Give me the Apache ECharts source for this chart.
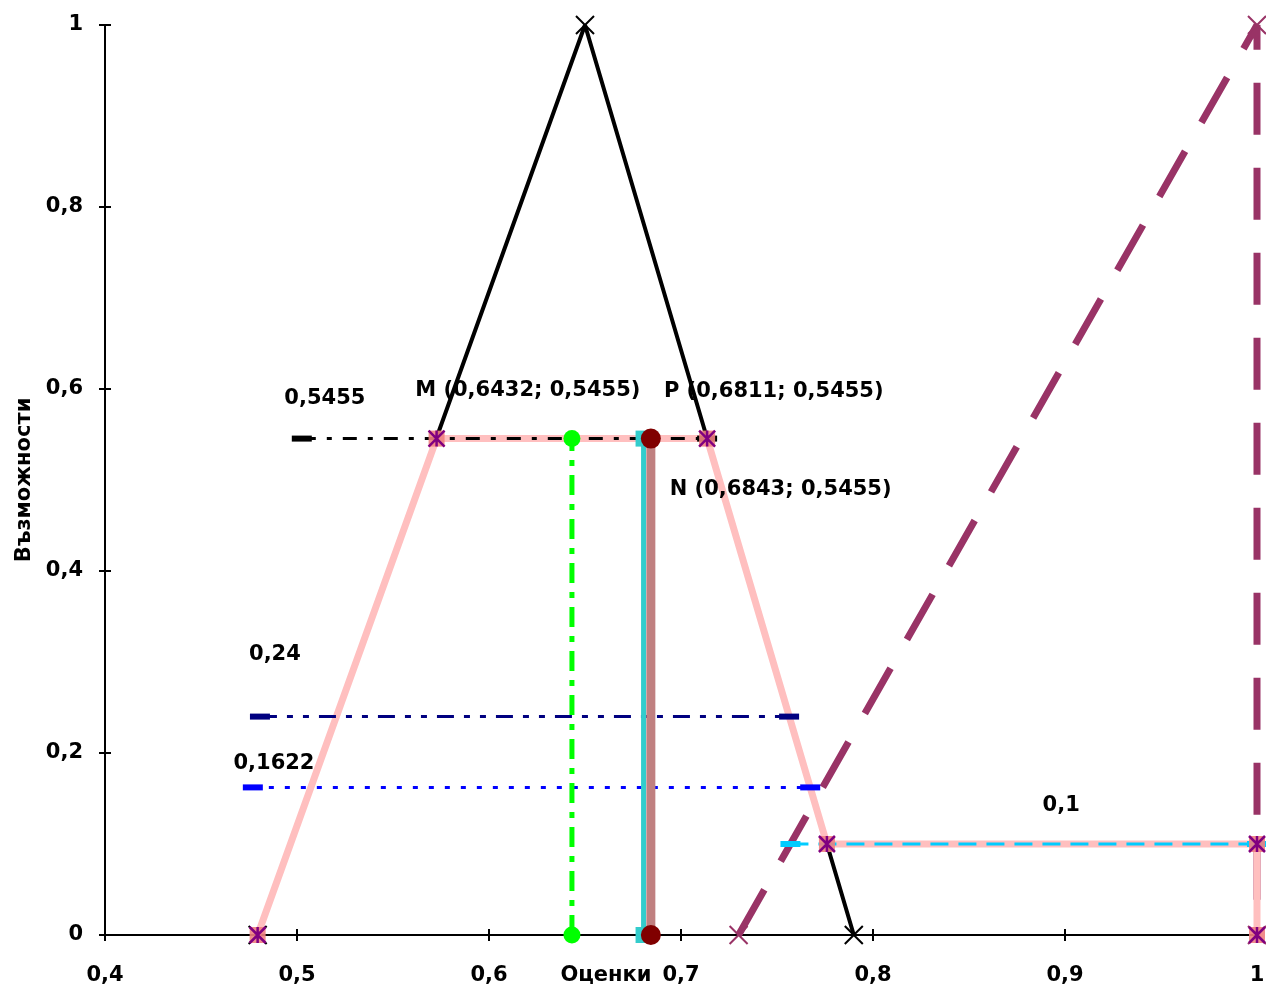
<!DOCTYPE html>
<html><head><meta charset="utf-8">
<script src="https://cdn.jsdelivr.net/npm/echarts@6/dist/echarts.min.js"></script>
<style>html,body{margin:0;padding:0;background:#fff}#c{width:1266px;height:989px}</style>
</head><body><div id="c"></div>
<script>
// ---- data ----
const xTicks = [0.4, 0.5, 0.6, 0.7, 0.8, 0.9, 1.0];
const yTicks = [0, 0.2, 0.4, 0.6, 0.8, 1];
const triangleX = [0.4795, 0.65, 0.79];
const triangleY = [0, 1, 0];
const resultX = [0.4795, 0.5727, 0.7136, 0.776, 1.0, 1.0];
const resultY = [0, 0.5455, 0.5455, 0.1, 0.1, 0];
const rightX = [0.73, 1.0, 1.0];
const rightY = [0, 1, 0];
const lvl5455X = [0.5025, 0.7136]; const lvl5455Y = 0.5455;
const lvl24X = [0.4807, 0.7563];   const lvl24Y = 0.24;
const lvl1622X = [0.477, 0.7673];  const lvl1622Y = 0.1622;
const lvl1X = [0.757, 1.0];        const lvl1Y = 0.1;
const mX = 0.6432, pX = 0.6805, nX = 0.6843;
const vertY = [0, 0.5455];
const labelTexts = ['0,5455', 'M (0,6432; 0,5455)', 'P (0,6811; 0,5455)', 'N (0,6843; 0,5455)', '0,24', '0,1622', '0,1'];
const labelX = [0.5145, 0.6202, 0.7483, 0.7519, 0.4885, 0.488, 0.898];
const labelY = [0.590, 0.5978, 0.5967, 0.489, 0.3077, 0.188, 0.1418];

const zip = (xs, ys) => xs.map((x, i) => [x, Array.isArray(ys) ? ys[i] : ys]);
const fmt = v => String(Number(v.toFixed(4))).replace('.', ',');
const XPATH = 'path://M0,0L10,10M10,0L0,10';
const STAR = 'path://M0,0L10,10M10,0L0,10M5,0L5,10';
const font = 'DejaVu Sans, sans-serif';
const FS = 21;

function hline(xs, y, color, dash, z) {
  return {type: 'line', data: zip(xs, y), clip: false, z: z,
    lineStyle: {color: color, width: 3, type: dash},
    symbol: 'rect', symbolSize: [20, 6], itemStyle: {color: color}, silent: true, animation: false};
}
function vline(x, color, width, dash, symbol, symColor, symSize, z) {
  return {type: 'line', data: vertY.map(y => [x, y]), clip: false, z: z,
    lineStyle: {color: color, width: width, type: dash},
    symbol: symbol, symbolSize: symSize, showAllSymbol: true, itemStyle: {color: symColor}, animation: false};
}

const chart = echarts.init(document.getElementById('c'));
chart.setOption({
  animation: false,
  grid: {left: 105, right: 9, top: 25, bottom: 54, containLabel: false, outerBoundsMode: 'none'},
  xAxis: [
    {type: 'value', min: 0.4, max: 1.0, interval: 0.1,
      axisLine: {show: true, onZero: false, lineStyle: {color: '#000', width: 2}},
      axisTick: {show: true, inside: false, length: 6, lineStyle: {color: '#000', width: 2}},
      axisLabel: {formatter: v => fmt(v), color: '#000', fontSize: FS, fontWeight: 'bold', fontFamily: font, margin: 30},
      splitLine: {show: false},
      name: 'Оценки', nameLocation: 'middle', nameGap: 30, nameMoveOverlap: false,
      nameTextStyle: {color: '#000', fontSize: FS, fontWeight: 'bold', fontFamily: font, padding: [0, 150, 0, 0]}},
    {type: 'value', min: 0.4, max: 1.0, interval: 0.1, position: 'bottom',
      axisLine: {show: false}, axisTick: {show: true, inside: true, length: 6, lineStyle: {color: '#000', width: 2}},
      axisLabel: {show: false}, splitLine: {show: false}}
  ],
  yAxis: [
    {type: 'value', min: 0, max: 1, interval: 0.2,
      axisLine: {show: true, onZero: false, lineStyle: {color: '#000', width: 2}},
      axisTick: {show: true, inside: false, length: 6, lineStyle: {color: '#000', width: 2}},
      axisLabel: {formatter: v => fmt(v), color: '#000', fontSize: FS, fontWeight: 'bold', fontFamily: font, margin: 22},
      splitLine: {show: false},
      name: 'Възможности', nameLocation: 'middle', nameGap: 70, nameRotate: 90, nameMoveOverlap: false,
      nameTextStyle: {color: '#000', fontSize: FS, fontWeight: 'bold', fontFamily: font}},
    {type: 'value', min: 0, max: 1, interval: 0.2, position: 'left',
      axisLine: {show: false}, axisTick: {show: true, inside: true, length: 6, lineStyle: {color: '#000', width: 2}},
      axisLabel: {show: false}, splitLine: {show: false}}
  ],
  series: [
    {type: 'line', data: zip(triangleX, triangleY), clip: false, z: 2,
      lineStyle: {color: '#000', width: 4}, symbol: XPATH, symbolSize: 18,
      itemStyle: {color: 'transparent', borderColor: '#000', borderWidth: 2}},
    {type: 'line', data: zip(rightX, rightY), clip: false, z: 3,
      lineStyle: {color: '#993366', width: 7, type: [52, 33]}, symbol: XPATH, symbolSize: 18,
      itemStyle: {color: 'transparent', borderColor: '#993366', borderWidth: 2}},
    {type: 'line', data: zip(resultX, resultY), clip: false, z: 4,
      lineStyle: {color: '#FFBFBF', width: 7}, symbol: 'none'},
    hline(lvl24X, lvl24Y, '#000080', [17, 10, 6, 10, 6, 10], 5),
    hline(lvl1622X, lvl1622Y, '#0000FF', [5, 11], 5),
    hline(lvl5455X, lvl5455Y, '#000000', [14, 11, 5, 11], 6),
    hline(lvl1X, lvl1Y, '#00CCFF', [18, 10], 6),
    vline(mX, '#00FF00', 5, [20, 9, 6, 9], 'circle', '#00FF00', 17, 7),
    vline(pX, '#33CCCC', 5, 'solid', 'rect', '#33CCCC', 16, 7),
    vline(nX, '#C08080', 9, 'solid', 'circle', '#800000', 20, 8),
    {type: 'scatter', data: zip(resultX, resultY), clip: false, z: 9,
      symbol: 'rect', symbolSize: 16, itemStyle: {color: '#F08080', opacity: 0.9}},
    {type: 'scatter', data: zip(resultX, resultY), clip: false, z: 10,
      symbol: STAR, symbolSize: 16, itemStyle: {color: 'transparent', borderColor: '#800080', borderWidth: 2.5, opacity: 1}},
    {type: 'scatter', data: labelX.map((x, i) => ({value: [x, labelY[i]], name: labelTexts[i]})),
      clip: false, z: 11, symbolSize: 1, silent: true, itemStyle: {opacity: 1, color: 'transparent'},
      label: {show: true, position: 'inside', formatter: p => p.name, color: '#000', opacity: 1,
        fontSize: FS, fontWeight: 'bold', fontFamily: font}}
  ]
});
</script></body></html>
